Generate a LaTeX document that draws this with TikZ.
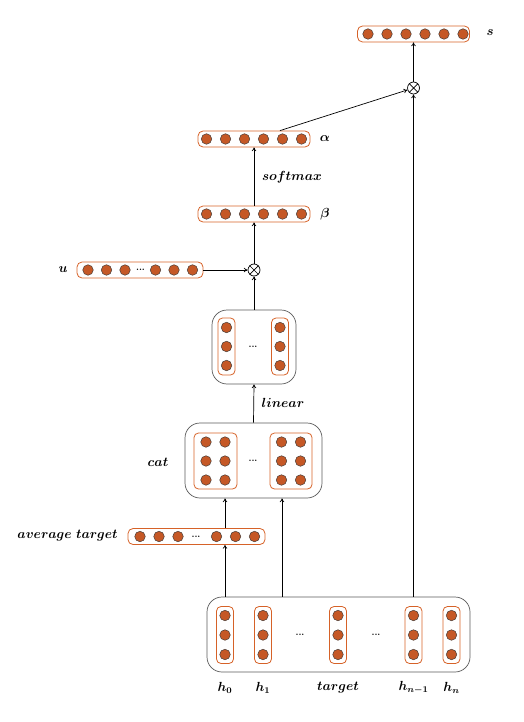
\documentclass[tikz,border=0pt]{standalone}
\usepackage{bm}
\usepackage{graphicx}
\usetikzlibrary{arrows.meta}
\definecolor{vecborder}{RGB}{214,98,40}
\definecolor{dotfill}{RGB}{197,88,38}
\definecolor{dotline}{RGB}{70,60,55}
\definecolor{boxline}{RGB}{90,90,90}
\tikzset{
  vecbox/.style={draw=vecborder, line width=0.8pt, rounded corners=5pt, minimum height=16pt, inner sep=0pt},
  colbox/.style={draw=vecborder, line width=0.8pt, rounded corners=4.5pt, minimum width=17pt, minimum height=57pt, inner sep=0pt},
  bigbox/.style={draw=boxline, line width=0.7pt, rounded corners=15pt, inner sep=0pt},
  unit/.style={circle, draw=dotline, fill=dotfill, line width=0.5pt, minimum size=10.5pt, inner sep=0pt},
  ell/.style={inner sep=0pt, font=\small\bfseries},
  otimesnode/.style={circle, draw, line width=0.7pt, minimum size=12pt, inner sep=0pt},
  lab/.style={inner sep=0pt, font=\large},
  conn/.style={line width=0.7pt, -{To[length=3.8pt,width=4.5pt]}},
  plain/.style={line width=0.7pt}
}
\newcommand{\ellip}{...}
\newcommand{\bl}[1]{\scalebox{1.1}{$\bm{#1}$}}
\newcommand{\otimesmark}[1]{\draw[line width=0.7pt] (#1.north west)--(#1.south east) (#1.north east)--(#1.south west);}
\begin{document}
\begin{tikzpicture}[x=1pt,y=-1pt]
\useasboundingbox (0,0) rectangle (524,722);

% s vector
\node[vecbox, minimum width=112pt] (s) at (413.5,34) {};
\foreach \i in {0,...,5} \node[unit] (s\i) at (368+19*\i,34) {};
\node[lab] (slab) at (490,33) {\bl{s}};

% top otimes
\node[otimesnode] (ot1) at (413.5,88) {};
\otimesmark{ot1}

% alpha
\node[vecbox, minimum width=112pt] (alpha) at (254,139) {};
\foreach \i in {0,...,5} \node[unit] (a\i) at (206.5+19*\i,139) {};
\node[lab] (alab) at (325,139) {\bl{\alpha}};
\node[lab] (smlab) at (292,177) {\bl{softmax}};

% beta
\node[vecbox, minimum width=112pt] (beta) at (254,214) {};
\foreach \i in {0,...,5} \node[unit] (b\i) at (206.5+19*\i,214) {};
\node[lab] (blab) at (325,214) {\bl{\beta}};

% middle otimes
\node[otimesnode] (ot2) at (254,270) {};
\otimesmark{ot2}

% u
\node[vecbox, minimum width=126pt] (u) at (140,270) {};
\node[unit] (u0) at (88,270) {};
\node[unit] (u1) at (106.5,270) {};
\node[unit] (u2) at (125,270) {};
\node[ell] (ud) at (140.5,270) {\ellip};
\node[unit] (u3) at (155.5,270) {};
\node[unit] (u4) at (174,270) {};
\node[unit] (u5) at (192.5,270) {};
\node[lab] (ulab) at (63,270) {\bl{u}};

% linear box
\node[bigbox, minimum width=84pt, minimum height=74pt] (lin) at (254,347) {};
\node[colbox] (l0) at (226.5,346.5) {};
\node[colbox] (l1) at (280,346.5) {};
\foreach \c in {l0,l1} \foreach \y in {-19,0,19} \node[unit] at ([yshift=\y]\c.center) {};
\node[ell] (ld) at (253,347) {\ellip};
\node[lab] (linlab) at (283,403) {\bl{linear}};

% cat box
\node[bigbox, minimum width=137pt, minimum height=75pt] (cat) at (253.5,460.5) {};
\node[colbox, minimum width=43pt, minimum height=56pt] (c0) at (215.5,461) {};
\node[colbox, minimum width=42pt, minimum height=56pt] (c1) at (291,461) {};
\foreach \c in {c0,c1} \foreach \x in {-9.5,9.5} \foreach \y in {-19,0,19} \node[unit] at ([xshift=\x,yshift=\y]\c.center) {};
\node[ell] (cd) at (253,461) {\ellip};
\node[lab] (catlab) at (158,462) {\bl{cat}};

% average target
\node[vecbox, minimum width=137pt] (avg) at (196.5,536.5) {};
\node[unit] (v0) at (140,536.5) {};
\node[unit] (v1) at (159,536.5) {};
\node[unit] (v2) at (178,536.5) {};
\node[ell] (vd) at (196,536.5) {\ellip};
\node[unit] (v3) at (216.5,536.5) {};
\node[unit] (v4) at (235.5,536.5) {};
\node[unit] (v5) at (254.5,536.5) {};
\node[lab, anchor=east] (avglab) at (118,536) {\bl{average\ target}};

% hidden states
\node[bigbox, minimum width=263pt, minimum height=75pt] (hid) at (338.5,634.5) {};
\node[colbox] (h0) at (225,635) {};
\node[colbox] (h1) at (263,635) {};
\node[colbox] (ht) at (338,635) {};
\node[colbox] (hn1) at (413.5,635) {};
\node[colbox] (hn) at (451.5,635) {};
\foreach \c in {h0,h1,ht,hn1,hn} \foreach \y in {-19.5,0,19.5} \node[unit] at ([yshift=\y]\c.center) {};
\node[ell] (hd1) at (300,635) {\ellip};
\node[ell] (hd2) at (376,635) {\ellip};
\node[lab] (h0lab) at (225,688) {\bl{h_0}};
\node[lab] (h1lab) at (263,688) {\bl{h_1}};
\node[lab] (htlab) at (338,688) {\bl{target}};
\node[lab] (hn1lab) at (413.5,688) {\bl{h_{n-1}}};
\node[lab] (hnlab) at (451.5,688) {\bl{h_n}};

% connectors
\draw[conn] (h0 |- hid.north) -- (h0 |- avg.south);
\draw[conn] (h0 |- avg.north) -- (h0 |- cat.south);
\draw[conn] ([xshift=282pt-253.5pt]cat.south |- hid.north) -- ([xshift=282pt-253.5pt]cat.south);
\draw[conn] (cat.north) -- (lin.south);
\draw[conn] (lin.north) -- (ot2.south);
\draw[conn] (u.east) -- (ot2.west);
\draw[conn] (ot2.north) -- (beta.south);
\draw[conn] (beta.north) -- (alpha.south);
\draw[conn] ([xshift=26pt]alpha.north) -- (ot1);
\draw[conn] (hn1 |- hid.north) -- (ot1.south);
\draw[conn] (ot1.north) -- (s.south);
\end{tikzpicture}
\end{document}
